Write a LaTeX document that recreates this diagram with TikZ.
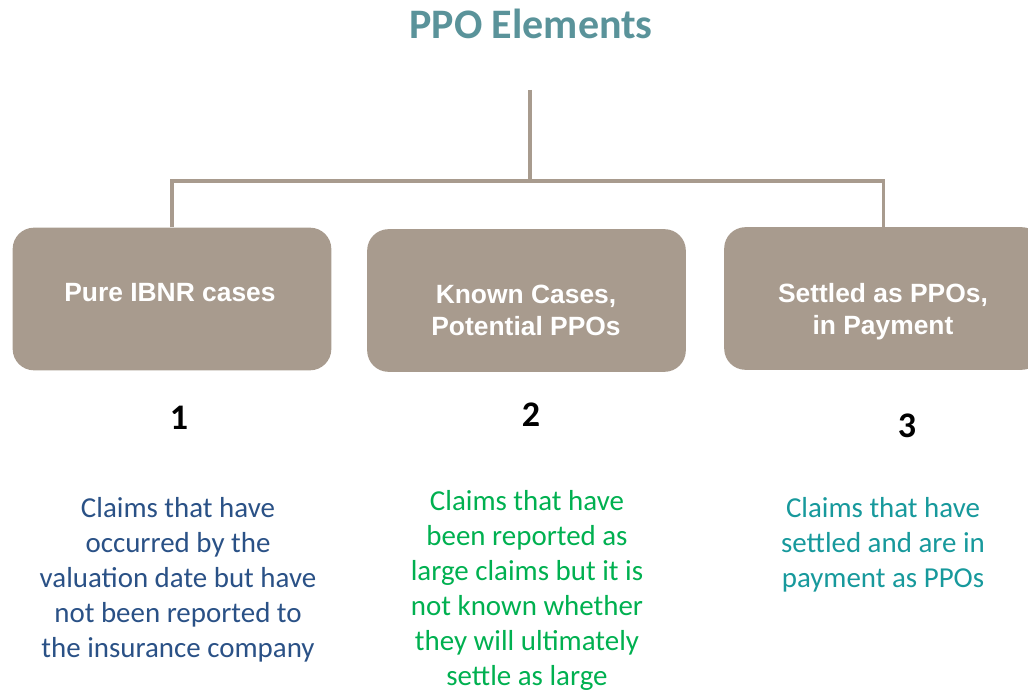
\documentclass[tikz,border=0pt]{standalone}
\usepackage{fontspec}
\setmainfont{Carlito}
\newfontfamily\boxfont{Liberation Sans}
\usetikzlibrary{calc}

\definecolor{boxfill}{HTML}{A89B8E}
\definecolor{titleteal}{HTML}{5A939A}
\definecolor{navytext}{HTML}{2A5186}
\definecolor{greentext}{HTML}{00B050}
\definecolor{tealtext}{HTML}{17999C}

\tikzset{
  stagebox/.style={draw=none, fill=boxfill, rounded corners=16pt,
    minimum width=239pt, minimum height=107pt, inner sep=0pt},
  boxlabel/.style={text=white, font=\boxfont\bfseries\fontsize{19.8}{24}\selectfont,
    align=center, inner sep=0pt},
  stagenum/.style={font=\bfseries\fontsize{27}{30}\selectfont, text=black, inner sep=0pt},
  desc/.style={font=\fontsize{21.7}{26.25}\selectfont, align=center, inner sep=0pt},
  conn/.style={draw=boxfill, line width=2.3pt}
}

\begin{document}
\begin{tikzpicture}[x=0.75pt, y=-0.75pt]
  \useasboundingbox (0,0) rectangle (1028,692);
  \clip (0,0) rectangle (1028,692);

  % title
  \node[text=titleteal, font=\bfseries\fontsize{31.5}{36}\selectfont, inner sep=0pt]
    (title) at (531,24) {PPO Elements};

  % the three stages
  \node[stagebox] (b1) at (172,299) {};
  \node[stagebox] (b2) at (526.5,300.5) {};
  \node[stagebox] (b3) at (883.5,298.5) {};

  \node[boxlabel] (t1) at (170,293) {Pure IBNR cases};
  \node[boxlabel] (t2) at (526,310) {Known Cases,\\Potential PPOs};
  \node[boxlabel] (t3) at (883,312) {Settled as PPOs,\\in Payment};

  % tree connector
  \coordinate (root) at (530,90);
  \coordinate (bus) at (530,181);
  \draw[conn] (root) -- (bus);
  \draw[conn] (b1.north) |- (bus) -| (b3.north);

  % stage numbers
  \node[stagenum] (n1) at (179,418) {1};
  \node[stagenum] (n2) at (531,415) {2};
  \node[stagenum] (n3) at (907,426) {3};

  % descriptions
  \node[desc, text=navytext] (d1) at (178,580)
    {Claims that have\\occurred by the\\valuation date but have\\not been reported to\\the insurance company};
  \node[desc, text=greentext] (d2) at (527,590)
    {Claims that have\\been reported as\\large claims but it is\\not known whether\\they will ultimately\\settle as large};
  \node[desc, text=tealtext] (d3) at (883,545)
    {Claims that have\\settled and are in\\payment as PPOs};
\end{tikzpicture}
\end{document}
